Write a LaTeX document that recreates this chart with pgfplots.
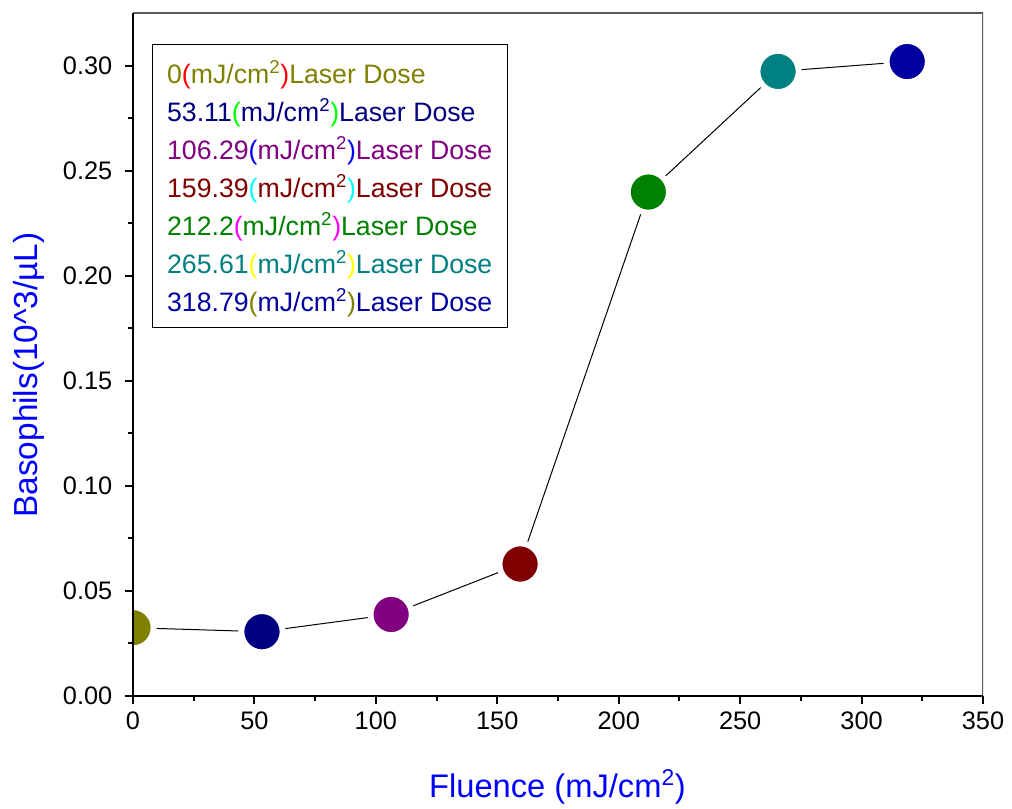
\documentclass[border=0pt]{standalone}
\usepackage{pgfplots}
\pgfplotsset{compat=1.18}
\usepackage{fontspec}
\setmainfont{Liberation Sans}
\definecolor{cA}{RGB}{128,128,0}
\definecolor{cB}{RGB}{0,0,128}
\definecolor{cC}{RGB}{128,0,128}
\definecolor{cD}{RGB}{128,0,0}
\definecolor{cE}{RGB}{0,128,0}
\definecolor{cF}{RGB}{0,128,128}
\definecolor{cG}{RGB}{0,0,160}
\definecolor{pA}{RGB}{255,0,0}
\definecolor{pB}{RGB}{0,255,0}
\definecolor{pC}{RGB}{0,0,255}
\definecolor{pD}{RGB}{0,255,255}
\definecolor{pE}{RGB}{255,0,255}
\definecolor{pF}{RGB}{255,255,0}
\definecolor{pG}{RGB}{128,128,0}
\newcommand{\entry}[3]{\textcolor{#2}{#1}\textcolor{#3}{(}\textcolor{#2}{mJ/cm\textsuperscript{2}}\textcolor{#3}{)}\textcolor{#2}{Laser Dose}}
\pgfplotsset{
  dot/.style={only marks, mark=*, mark size=15.5pt, mark options={fill=#1, draw=white, line width=4.5pt}},
}
\begin{document}
\begin{tikzpicture}
\path[use as bounding box] (-99.75pt,-84pt) rectangle ++(759pt,606pt);
\begin{axis}[
  scale only axis,
  width=637.5pt, height=512.25pt,
  xmin=0, xmax=350, ymin=0, ymax=0.325,
  axis x line*=bottom, axis y line*=left,
  axis line style={black, line width=1.5pt},
  axis on top=true,
  clip marker paths=true,
  xtick={0,50,...,350},
  ytick={0,0.05,...,0.30},
  minor x tick num=1, minor y tick num=1,
  tick align=outside,
  major tick length=6pt, minor tick length=4pt,
  every tick/.style={black, line width=1.5pt},
  tick label style={font=\fontsize{19}{22}\selectfont},
  /pgf/number format/assume math mode=true,
  yticklabel style={xshift=-6pt, /pgf/number format/.cd, fixed, fixed zerofill, precision=2},
  xticklabel style={yshift=-2pt},
  xlabel={Fluence (mJ/cm\textsuperscript{2})},
  ylabel={Basophils(10\^{}3/µL)},
  xlabel style={font=\fontsize{24.5}{28}\selectfont, text=blue, at={(axis description cs:0.4994,-0.133)}, anchor=center},
  ylabel style={font=\fontsize{25}{28}\selectfont, text=blue, at={(axis description cs:-0.123,0.47)}, anchor=center},
  legend image code/.code={},
  legend cell align=left,
  legend style={at={(axis description cs:0.0223,0.9546)}, anchor=north west, draw=black, line width=0.75pt,
    font=\fontsize{20}{24}\selectfont, inner xsep=11pt, inner ysep=11pt, row sep=9.5pt,
    nodes={inner sep=0pt, text height=18pt, text depth=1pt}},
]
\draw[gray!70!black, line width=0.8pt] (rel axis cs:0,1) -- (rel axis cs:1,1) -- (rel axis cs:1,0);
\addplot[black, line width=0.75pt, forget plot] coordinates {
  (0,0.0325) (53.11,0.0306) (106.29,0.0388) (159.39,0.0628) (212.2,0.2398) (265.61,0.2972) (318.79,0.3019)};
\addplot[dot=cA] coordinates {(0,0.0325)};
\addlegendentry{\entry{0}{cA}{pA}}
\addplot[dot=cB] coordinates {(53.11,0.0306)};
\addlegendentry{\entry{53.11}{cB}{pB}}
\addplot[dot=cC] coordinates {(106.29,0.0388)};
\addlegendentry{\entry{106.29}{cC}{pC}}
\addplot[dot=cD] coordinates {(159.39,0.0628)};
\addlegendentry{\entry{159.39}{cD}{pD}}
\addplot[dot=cE] coordinates {(212.2,0.2398)};
\addlegendentry{\entry{212.2}{cE}{pE}}
\addplot[dot=cF] coordinates {(265.61,0.2972)};
\addlegendentry{\entry{265.61}{cF}{pF}}
\addplot[dot=cG] coordinates {(318.79,0.3019)};
\addlegendentry{\entry{318.79}{cG}{pG}}
\end{axis}
\end{tikzpicture}
\end{document}
